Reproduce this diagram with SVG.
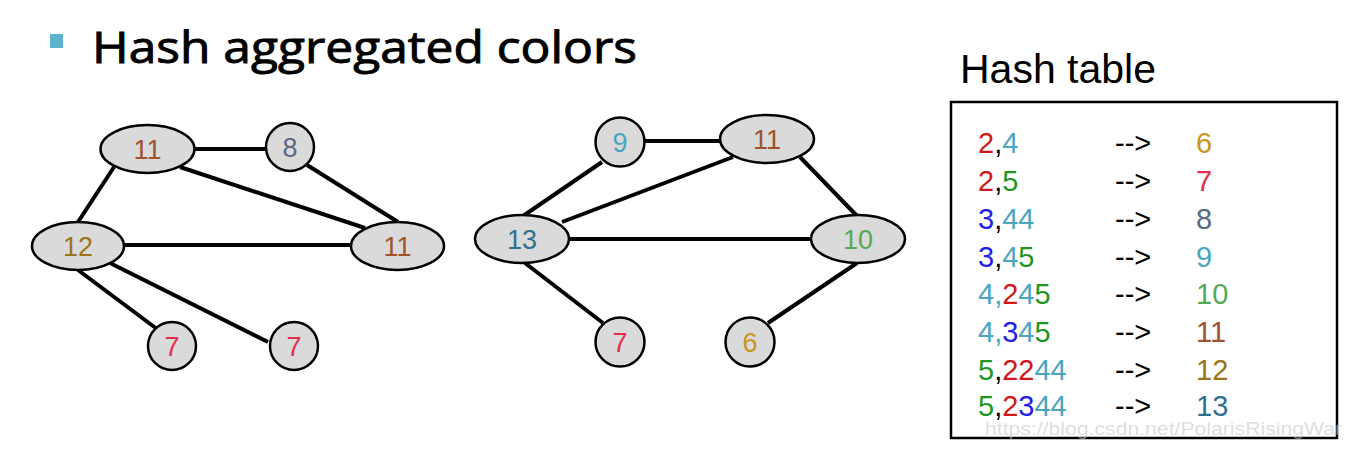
<svg xmlns="http://www.w3.org/2000/svg" width="1365" height="458" viewBox="0 0 1365 458">
<style>
.node{fill:#dadada;stroke:#000;stroke-width:2.5}
.lbl{font-family:"Liberation Sans",Arial,sans-serif;font-size:27px;text-anchor:middle}
.edge{stroke:#000;stroke-width:4;fill:none}
.row{font-family:"Liberation Sans",Arial,sans-serif;font-size:29px}
.r{fill:#d01818}.t{fill:#4aa5bf}.g{fill:#1f961f}.b{fill:#2222e6}.k{fill:#000}
.c6{fill:#c8961e}.c7{fill:#e42e4e}.c8{fill:#5b6a80}.c9{fill:#4aa5bf}.c10{fill:#55a955}.c11{fill:#a0522d}.c12{fill:#9a7416}.c13{fill:#2f7090}
</style>
<rect width="1365" height="458" fill="#fff"/>
<rect x="50" y="34" width="13" height="14" fill="#5db3cc"/>
<text x="92" y="63" font-family="Open Sans, Liberation Sans, sans-serif" font-size="43" stroke="#000" stroke-width="0.9" textLength="545" lengthAdjust="spacingAndGlyphs" fill="#000">Hash aggregated colors</text>

<g id="connectors">
<line class="edge" x1="195" y1="149" x2="266" y2="149"/>
<line class="edge" x1="180" y1="167" x2="365" y2="228"/>
<line class="edge" x1="307" y1="165" x2="398" y2="222"/>
<line class="edge" x1="114" y1="167" x2="78" y2="222"/>
<line class="edge" x1="124" y1="245" x2="351" y2="245"/>
<line class="edge" x1="78" y1="270" x2="157" y2="329"/>
<line class="edge" x1="110" y1="263" x2="268" y2="342"/>
<line class="edge" x1="645" y1="141" x2="720" y2="141"/>
<line class="edge" x1="602" y1="162" x2="523" y2="216"/>
<line class="edge" x1="733" y1="157" x2="562" y2="222"/>
<line class="edge" x1="800" y1="157" x2="858" y2="217"/>
<line class="edge" x1="570" y1="239" x2="811" y2="239"/>
<line class="edge" x1="525" y1="263" x2="603" y2="323"/>
<line class="edge" x1="857" y1="263" x2="768" y2="323"/>
</g>

<g id="L11a"><ellipse class="node" cx="147.5" cy="149" rx="47" ry="24"/><text class="lbl c11" x="147.5" y="158.5">11</text></g>
<g id="L8"><circle class="node" cx="290" cy="147" r="24"/><text class="lbl c8" x="290" y="156.5">8</text></g>
<g id="L12"><ellipse class="node" cx="78" cy="246" rx="46" ry="24"/><text class="lbl c12" x="78" y="255.5">12</text></g>
<g id="L11b"><ellipse class="node" cx="397.5" cy="246" rx="46.5" ry="24"/><text class="lbl c11" x="397.5" y="255.5">11</text></g>
<g id="L7a"><circle class="node" cx="172" cy="346" r="24"/><text class="lbl c7" x="172" y="355.5">7</text></g>
<g id="L7b"><circle class="node" cx="294" cy="346" r="24"/><text class="lbl c7" x="294" y="355.5">7</text></g>

<g id="R9"><circle class="node" cx="620" cy="142" r="24.5"/><text class="lbl c9" x="620" y="151.5">9</text></g>
<g id="R11"><ellipse class="node" cx="767" cy="139" rx="47" ry="24"/><text class="lbl c11" x="767" y="148.5">11</text></g>
<g id="R13"><ellipse class="node" cx="522" cy="239" rx="47" ry="24"/><text class="lbl c13" x="522" y="248.5">13</text></g>
<g id="R10"><ellipse class="node" cx="858" cy="239" rx="47" ry="24"/><text class="lbl c10" x="858" y="248.5">10</text></g>
<g id="R7"><circle class="node" cx="620" cy="342" r="24.5"/><text class="lbl c7" x="620" y="351.5">7</text></g>
<g id="R6"><circle class="node" cx="750" cy="342" r="24.5"/><text class="lbl c6" x="750" y="351.5">6</text></g>

<g id="hashtable">
<text x="960" y="83" font-family="Liberation Sans, Arial, sans-serif" font-size="41" fill="#000">Hash table</text>
<rect x="951" y="102" width="386" height="336" fill="none" stroke="#000" stroke-width="2.5"/>
<g class="row">
<text x="978" y="153"><tspan class="r">2</tspan><tspan class="k">,</tspan><tspan class="t">4</tspan></text>
<text x="978" y="191"><tspan class="r">2</tspan><tspan class="k">,</tspan><tspan class="g">5</tspan></text>
<text x="978" y="229"><tspan class="b">3</tspan><tspan class="k">,</tspan><tspan class="t">44</tspan></text>
<text x="978" y="267"><tspan class="b">3</tspan><tspan class="k">,</tspan><tspan class="t">4</tspan><tspan class="g">5</tspan></text>
<text x="978" y="304"><tspan class="t">4,</tspan><tspan class="r">2</tspan><tspan class="t">4</tspan><tspan class="g">5</tspan></text>
<text x="978" y="342"><tspan class="t">4,</tspan><tspan class="b">3</tspan><tspan class="t">4</tspan><tspan class="g">5</tspan></text>
<text x="978" y="380"><tspan class="g">5</tspan><tspan class="k">,</tspan><tspan class="r">22</tspan><tspan class="t">44</tspan></text>
<text x="978" y="416"><tspan class="g">5</tspan><tspan class="k">,</tspan><tspan class="r">2</tspan><tspan class="b">3</tspan><tspan class="t">44</tspan></text>
<text class="k" x="1115" y="153">--&gt;</text>
<text class="k" x="1115" y="191">--&gt;</text>
<text class="k" x="1115" y="229">--&gt;</text>
<text class="k" x="1115" y="267">--&gt;</text>
<text class="k" x="1115" y="304">--&gt;</text>
<text class="k" x="1115" y="342">--&gt;</text>
<text class="k" x="1115" y="380">--&gt;</text>
<text class="k" x="1115" y="416">--&gt;</text>
<text class="c6" x="1196" y="153">6</text>
<text class="c7" x="1196" y="191">7</text>
<text class="c8" x="1196" y="229">8</text>
<text class="c9" x="1196" y="267">9</text>
<text class="c10" x="1196" y="304">10</text>
<text class="c11" x="1196" y="342">11</text>
<text class="c12" x="1196" y="380">12</text>
<text class="c13" x="1196" y="416">13</text>
</g>
</g>
<text x="985" y="435" font-family="Liberation Sans, Arial, sans-serif" font-size="18" fill="#c8c8c8" fill-opacity="0.6" textLength="357" lengthAdjust="spacingAndGlyphs">https://blog.csdn.net/PolarisRisingWar</text>
</svg>
